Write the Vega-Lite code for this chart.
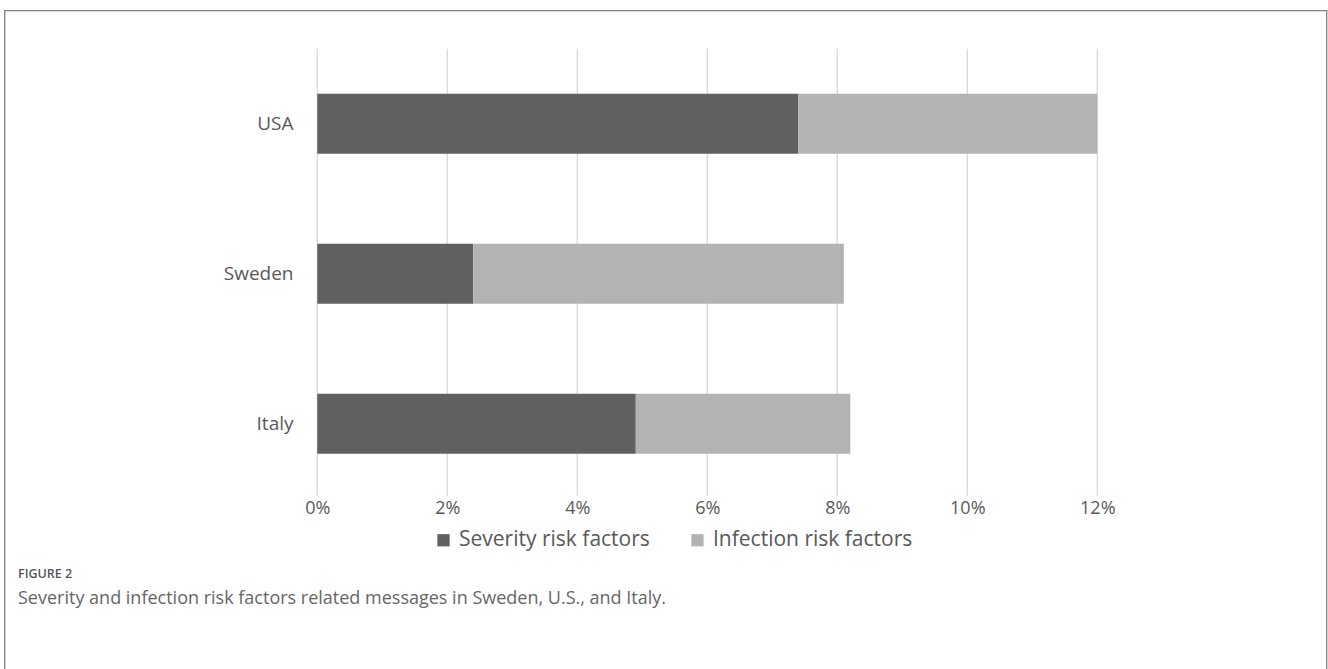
{
  "$schema": "https://vega.github.io/schema/vega-lite/v6.json",
  "width": 1322,
  "height": 660,
  "padding": {"left": 4.5, "top": 10.5, "right": 1.5, "bottom": 0},
  "autosize": "none",
  "background": "white",
  "config": {"view": {"stroke": "#7f7f7f", "strokeWidth": 1.3}, "font": "Open Sans"},
  "title": {
    "text": "FIGURE 2",
    "subtitle": "Severity and infection risk factors related messages in Sweden, U.S., and Italy.",
    "orient": "bottom",
    "anchor": "start",
    "frame": "group",
    "offset": -102.5,
    "dx": 13.5,
    "font": "Open Sans",
    "fontSize": 12.5,
    "fontWeight": 600,
    "color": "#555555",
    "subtitleFont": "Open Sans",
    "subtitleFontSize": 18,
    "subtitleColor": "#666666",
    "subtitlePadding": 9
  },
  "layer": [
    {
      "data": {"values": [{"g": 0}, {"g": 2}, {"g": 4}, {"g": 6}, {"g": 8}, {"g": 10}, {"g": 12}]},
      "mark": {"type": "rule", "color": "#d9d9d9", "strokeWidth": 1.3},
      "encoding": {
        "x": {
          "field": "g", "type": "quantitative",
          "scale": {"domain": [-4.812, 15.526], "nice": false, "zero": false},
          "axis": {"values": [0, 2, 4, 6, 8, 10, 12], "labelExpr": "datum.value + '%'", "grid": false, "ticks": false, "domain": false, "labelFont": "Open Sans", "labelFontSize": 18, "labelColor": "#595959", "labelPadding": 0, "offset": -171.5, "title": null}
        },
        "y": {"datum": 1, "type": "quantitative", "scale": {"domain": [-0.3912, 1.0857], "nice": false, "zero": false}, "axis": null},
        "y2": {"datum": 0}
      }
    },
    {
      "data": {"values": [
        {"country": "USA", "factor": "Severity risk factors", "value": 7.4},
        {"country": "USA", "factor": "Infection risk factors", "value": 4.6},
        {"country": "Sweden", "factor": "Severity risk factors", "value": 2.4},
        {"country": "Sweden", "factor": "Infection risk factors", "value": 5.7},
        {"country": "Italy", "factor": "Severity risk factors", "value": 4.9},
        {"country": "Italy", "factor": "Infection risk factors", "value": 3.3}
      ]},
      "mark": {"type": "bar"},
      "encoding": {
        "y": {
          "field": "country", "type": "nominal", "sort": ["USA", "Sweden", "Italy"],
          "scale": {"paddingInner": 0.6, "paddingOuter": 1.0197, "align": 0.2774},
          "axis": {"title": null, "ticks": false, "domain": false, "labelPadding": 0, "offset": -288.5, "labelFont": "Open Sans", "labelFontSize": 19, "labelColor": "#595959"}
        },
        "x": {
          "field": "value", "type": "quantitative", "stack": "zero",
          "scale": {"domain": [-4.812, 15.526], "nice": false, "zero": false},
          "axis": {"values": [0, 2, 4, 6, 8, 10, 12], "labelExpr": "datum.value + '%'", "grid": false, "ticks": false, "domain": false, "labelFont": "Open Sans", "labelFontSize": 18, "labelColor": "#595959", "labelPadding": 0, "offset": -171.5, "title": null}
        },
        "color": {
          "field": "factor", "type": "nominal",
          "scale": {"domain": ["Severity risk factors", "Infection risk factors"], "range": ["#606060", "#b3b3b3"]},
          "legend": {"orient": "none", "legendX": 428.5, "legendY": 519, "direction": "horizontal", "title": null, "symbolType": "square", "symbolSize": 150, "symbolStrokeWidth": 0, "labelFont": "Open Sans", "labelFontSize": 21, "labelColor": "#595959", "labelLimit": 0, "columnPadding": 37, "labelOffset": 5, "padding": 0}
        },
        "order": {"field": "factor", "sort": "descending"}
      }
    }
  ],
  "resolve": {"scale": {"y": "independent"}}
}
